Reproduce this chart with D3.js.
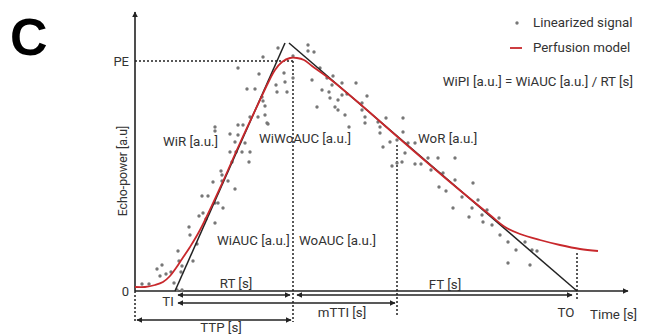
<!DOCTYPE html>
<meta charset="utf-8">
<style>
body { margin:0; background:#fff; }
svg text { font-family: Roboto, "Liberation Sans", sans-serif; fill:#333; }
.lbl { font-size:13.3px; }
.axis text { font-size:13px; fill:#333; }
.dash { fill:none; stroke:#222; stroke-width:1.5px; stroke-dasharray:2,2; }
.arrowline { fill:none; stroke:#222; stroke-width:1.6px; }
</style>
<body>
<div id="chart"></div>
<script src="https://d3js.org/d3.v7.min.js"></script>
<script>
// signal samples (time, echo-power)
var sigT = [1.4,2.8,4.4,5.4,5,6.2,7.2,7.8,8.4,9.4,8.6,8.8,9.4,9.2,11.6,10.8,11,12.4,12.8,13.6,14.2,16,13.4,14.6,16,16.6,17.6,15.6,17.4,18.6,17.2,17.4,20,19.4,22.8,19,20.2,21.4,23,19,20.6,20.6,21.6,23,16,16,24.6,26.6,25.4,25.6,26,20.6,22.4,24,28.2,30.4,30,25.6,28.6,24.8,29.8,31.6,28.4,26,26.4,20,22,
  34.6,34.6,35.8,31.6,35.4,37,37.4,38.4,39.6,39.4,38.8,36.4,39,40.6,41.4,42.4,41.4,44.2,40,40.6,42,45.4,45.4,46,46,42.8,46.4,48.6,49,50.2,53.6,49,49.6,51,52.4,53.6,54.6,56,51.4,52.4,53.4,54,56,57.2,58.6,60.6,64,59.2,61.6,60.8,62.2,64,67.6,65.4,63.6,67.4,68.6,66.8,69.4,70.4,69.6,71.4,72.8,73,74.6,76.2,74.6,78,79.4,80.4,79];
var sigE = [3.5,3.5,11,13,7.5,8.5,9.5,4,0.5,0.5,20,15,12.5,9.5,15,32,28,23.5,37.5,39,36,34,47.5,47.5,44,44,41.5,54.5,55,55,60,58,51,64.5,64.5,69.5,69.5,69.5,69.5,78.5,78,83,83,87,82,80,87,83.5,97,95,92.5,111.5,101,101,103,99.5,104.5,117,121.5,108.5,109,106.5,99.5,88,84,74.5,74,
  123,120,119.5,117.5,105.5,111.5,100.5,106.5,107.5,103,99.5,92,96.5,95.5,98,98.5,104,104,92,90.5,88,94,90.5,87,84,82,97.5,84.5,82,86.5,86.5,79,72,74.5,75.5,79.5,74,74,62.5,64,64.5,69,63.5,63.5,66.5,66.5,66.5,60.5,59,52,50,55.5,54,47,41.5,41.5,45.5,37,38,40.5,34.5,33,36.5,28,24.5,20.5,14,24.5,20.5,20,13];

// perfusion model curve
var modT = [0,2,4,5.6,7,8.2,9.4,11,13,17,21,25,26.6,28,29.4,31,32.4,33.8,35.4,39,45,53,63,71,74,77,81,85,89,92.6];
var modE = [2,2,3,4.5,7.5,11.5,16,22,30.5,51.5,74,95.5,104,110.5,114.5,116.5,116.5,115.5,112.5,106,93.5,76,54.5,38,32,28.5,25.5,23,21,20];

// linear fits: wash-in and wash-out
var riseT = [8, 30], riseE = [0, 124];
var fallT = [30.8, 88.4], fallE = [124, 0];

var PE = 115, TI = 8.4, TTP = 31.6, MTTI = 52.4, TO = 88.4;
var yTickLabels = ["0", "PE"];

var W = 645, H = 336;
var x = d3.scaleLinear().domain([0, 98.6]).range([135, 628]);
var y = d3.scaleLinear().domain([0, PE]).range([291, 61]);

var svg = d3.select("#chart").append("svg").attr("width", W).attr("height", H);

var defs = svg.append("defs");
defs.append("marker").attr("id", "arr")
    .attr("viewBox", "0 0 10 10").attr("refX", 9).attr("refY", 5)
    .attr("markerWidth", 6).attr("markerHeight", 6).attr("markerUnits", "userSpaceOnUse")
    .attr("orient", "auto-start-reverse")
  .append("path").attr("d", "M0,0L10,5L0,10z").attr("fill", "#222");

// panel letter
svg.append("text").attr("x", 10).attr("y", 55)
    .style("font-family", "'Liberation Sans', Arial, sans-serif")
    .style("font-weight", "900").style("font-size", "52px").style("fill", "#000")
    .text("C");

// axes
svg.append("line").attr("class", "arrowline")
    .attr("x1", x(0)).attr("y1", y(0)).attr("x2", x(0)).attr("y2", y(139.5))
    .attr("marker-end", "url(#arr)");
svg.append("line").attr("class", "arrowline")
    .attr("x1", x(0)).attr("y1", y(0)).attr("x2", x(98.6)).attr("y2", y(0))
    .attr("marker-end", "url(#arr)");

var yAxis = svg.append("g").attr("class", "axis")
    .attr("transform", "translate(" + (x(0) - 3) + ",0)")
    .call(d3.axisLeft(y).tickValues([0, PE]).tickSize(0)
      .tickFormat(function(d, i) { return yTickLabels[i]; }));
yAxis.select(".domain").remove();

svg.append("text").attr("transform", "translate(127," + y(60) + ") rotate(-90)")
    .style("font-size", "12.3px")
    .attr("text-anchor", "middle").text("Echo-power [a.u]");
svg.append("text").attr("class", "lbl").attr("x", 590).attr("y", 319).text("Time [s]");

// dotted guides
function vdash(t, e0, e1) {
  svg.append("line").attr("class", "dash")
    .attr("x1", x(t)).attr("x2", x(t)).attr("y1", y(e0)).attr("y2", y(e1));
}
svg.append("line").attr("class", "dash")
    .attr("x1", x(0)).attr("x2", x(TTP)).attr("y1", y(PE)).attr("y2", y(PE));
vdash(TTP, PE, -15.5);
vdash(MTTI, 73, -13);
vdash(TO, 19, -4.5);
vdash(0, 0, -15.5);

// scatter
svg.append("g").selectAll("circle")
    .data(sigT).enter().append("circle")
    .attr("cx", function(d) { return x(d); })
    .attr("cy", function(d, i) { return y(sigE[i]); })
    .attr("r", 1.7).attr("fill", "#777");

// fitted lines
var line = d3.line().x(function(d) { return x(d[0]); }).y(function(d) { return y(d[1]); });
svg.append("path").attr("d", line(d3.zip(riseT, riseE)))
    .attr("fill", "none").attr("stroke", "#222").attr("stroke-width", 1.5);
svg.append("path").attr("d", line(d3.zip(fallT, fallE)))
    .attr("fill", "none").attr("stroke", "#222").attr("stroke-width", 1.5);
svg.append("path").attr("d", line.curve(d3.curveCatmullRom)(d3.zip(modT, modE)))
    .attr("fill", "none").attr("stroke", "#c8282c").attr("stroke-width", 1.8);

// interval arrows
function harrow(t0, t1, e) {
  svg.append("line").attr("class", "arrowline")
    .attr("x1", x(t0)).attr("x2", x(t1)).attr("y1", y(e)).attr("y2", y(e))
    .attr("marker-start", "url(#arr)").attr("marker-end", "url(#arr)");
}
harrow(TI + 0.2, TTP - 0.6, -2);
harrow(TTP + 0.8, TO - 1, -2);
harrow(TI + 0.2, MTTI - 0.4, -6);
harrow(0.4, TTP - 0.4, -14.5);

var labels = [
  ["RT [s]", 236, 288, "middle"],
  ["FT [s]", 445, 289, "middle"],
  ["TI", 168, 306, "middle"],
  ["mTTI [s]", 342, 317, "middle"],
  ["TTP [s]", 221, 332, "middle"],
  ["TO", 566, 317, "middle"],
  ["WiR [a.u.]", 163, 146, "start"],
  ["WiWoAUC [a.u.]", 259, 143, "start"],
  ["WoR [a.u.]", 418, 143, "start"],
  ["WiAUC [a.u.]", 217, 245, "start"],
  ["WoAUC [a.u.]", 299, 245, "start"],
  ["Linearized signal", 533, 27, "start"],
  ["Perfusion model", 533, 52, "start"],
  ["WiPI [a.u.] = WiAUC [a.u.] / RT [s]", 633, 86, "end"]
];
svg.selectAll("text.ann").data(labels).enter().append("text")
    .attr("class", "lbl ann")
    .attr("x", function(d) { return d[1]; }).attr("y", function(d) { return d[2]; })
    .attr("text-anchor", function(d) { return d[3]; })
    .text(function(d) { return d[0]; });

// legend marks
svg.append("circle").attr("cx", 517).attr("cy", 23).attr("r", 1.7).attr("fill", "#777");
svg.append("line").attr("x1", 510).attr("x2", 522).attr("y1", 48).attr("y2", 48)
    .attr("stroke", "#c8282c").attr("stroke-width", 1.8);
</script>
</body>
